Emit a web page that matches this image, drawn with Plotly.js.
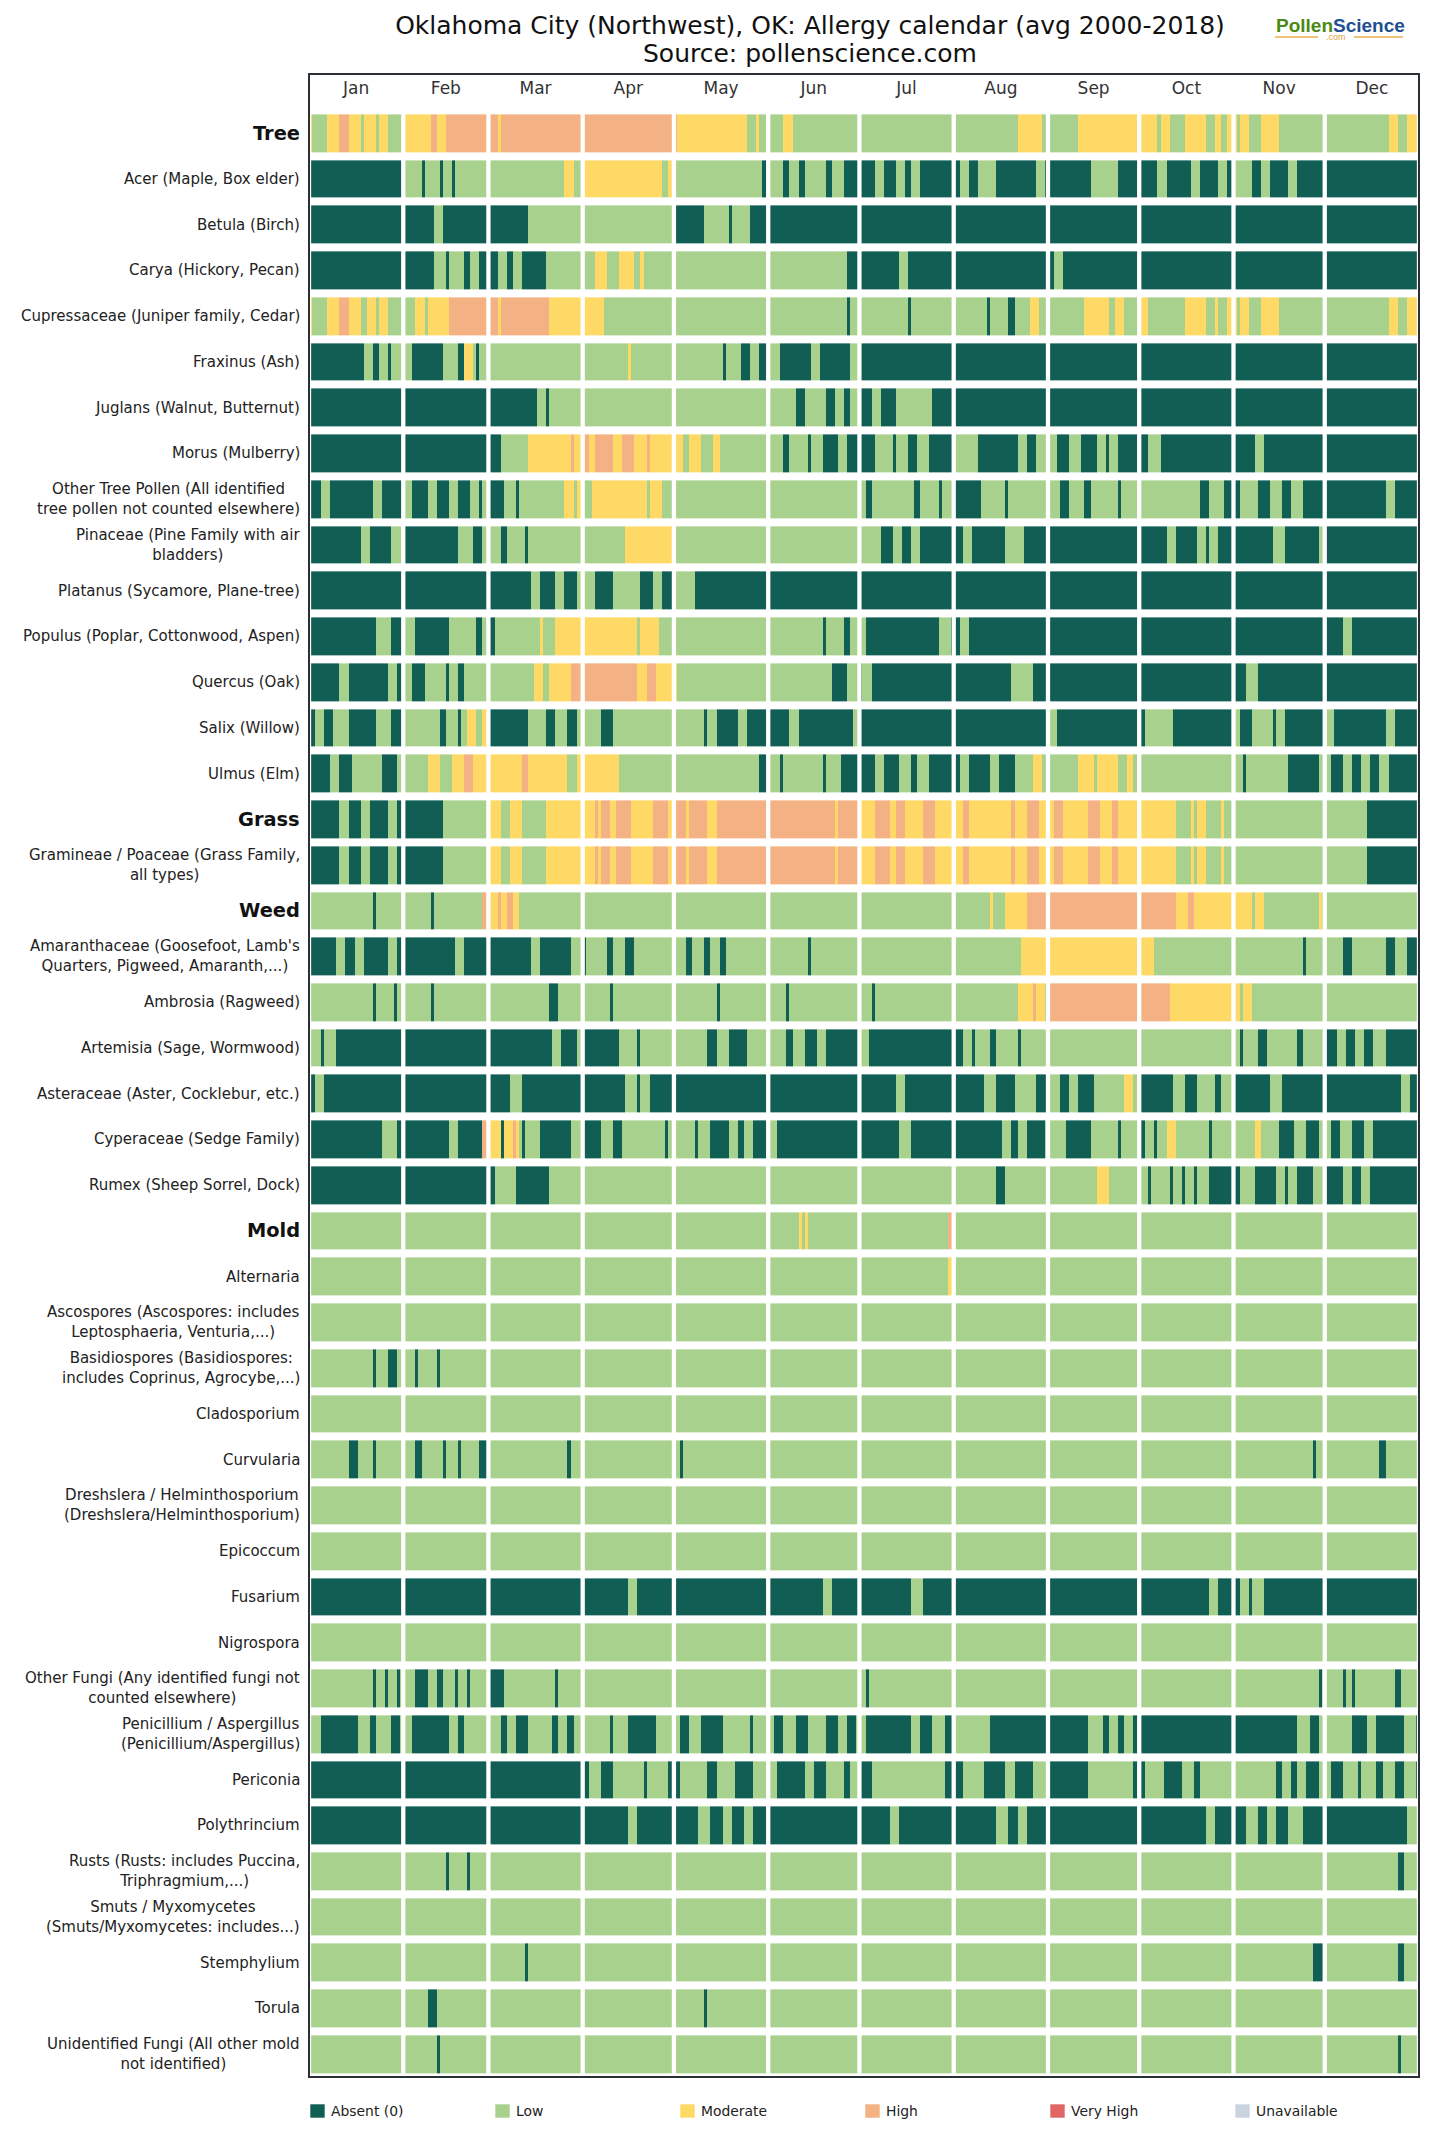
<!DOCTYPE html>
<html>
<head>
<meta charset="utf-8">
<script src="https://cdn.plot.ly/plotly-3.0.1.min.js"></script>
<style>
  html, body { margin: 0; padding: 0; background: #fff; }
  #chart { width: 1449px; height: 2149px; }
</style>
</head>
<body>
<div id="chart"></div>
<script>
// ---------------- DATA ----------------
const monthNames = ['Jan','Feb','Mar','Apr','May','Jun','Jul','Aug','Sep','Oct','Nov','Dec'];
const monthDays = [31,28,31,30,31,30,31,31,30,31,30,31];
const levelNames = ['Absent (0)','Low','Moderate','High','Very High','Unavailable'];
const levelCodes = {A:0, L:1, M:2, H:3, V:4, U:5};
const groupNames = ['Tree','Grass','Weed','Mold'];
const titleLines = ['Oklahoma City (Northwest), OK: Allergy calendar (avg 2000-2018)', 'Source: pollenscience.com'];

const categories = [
  'Tree',
  'Acer (Maple, Box elder)',
  'Betula (Birch)',
  'Carya (Hickory, Pecan)',
  'Cupressaceae (Juniper family, Cedar)',
  'Fraxinus (Ash)',
  'Juglans (Walnut, Butternut)',
  'Morus (Mulberry)',
  'Other Tree Pollen (All identified<br>tree pollen not counted elsewhere)',
  'Pinaceae (Pine Family with air<br>bladders)',
  'Platanus (Sycamore, Plane-tree)',
  'Populus (Poplar, Cottonwood, Aspen)',
  'Quercus (Oak)',
  'Salix (Willow)',
  'Ulmus (Elm)',
  'Grass',
  'Gramineae / Poaceae (Grass Family,<br>all types)',
  'Weed',
  "Amaranthaceae (Goosefoot, Lamb's<br>Quarters, Pigweed, Amaranth,...)",
  'Ambrosia (Ragweed)',
  'Artemisia (Sage, Wormwood)',
  'Asteraceae (Aster, Cocklebur, etc.)',
  'Cyperaceae (Sedge Family)',
  'Rumex (Sheep Sorrel, Dock)',
  'Mold',
  'Alternaria',
  'Ascospores (Ascospores: includes<br>Leptosphaeria, Venturia,...)',
  'Basidiospores (Basidiospores:<br>includes Coprinus, Agrocybe,...)',
  'Cladosporium',
  'Curvularia',
  'Dreshslera / Helminthosporium<br>(Dreshslera/Helminthosporium)',
  'Epicoccum',
  'Fusarium',
  'Nigrospora',
  'Other Fungi (Any identified fungi not<br>counted elsewhere)',
  'Penicillium / Aspergillus<br>(Penicillium/Aspergillus)',
  'Periconia',
  'Polythrincium',
  'Rusts (Rusts: includes Puccina,<br>Triphragmium,...)',
  'Smuts / Myxomycetes<br>(Smuts/Myxomycetes: includes...)',
  'Stemphylium',
  'Torula',
  'Unidentified Fungi (All other mold<br>not identified)'
];

// Runs per month: code + number of days (A absent, L low, M moderate, H high, V very high, U unavailable)
const treeRuns = [
  'M1 L5 M4 H3 M4 L1 M4 L1 M3 L5|M9 H2 M3 H14|H3 M1 H27|H30|H1 M23 L3 M1 L3|L5 M3 L22|L31|L21 M8 L2|L10 M20|M6 L1 M3 L5 M7 L3 M2 L2 M2|M1 L1 M3 L4 M6 L15|L21 M3 L3 M4',
  'A31|L6 A1 L5 A1 L3 A1 L11|L25 M3 L3|M26 L2 M2|L29 A2|L5 A2 L3 A2 L7 A2 L4 A5|A5 L3 A4 L3 A2 L3 A11|A2 L3 A3 L6 A13 L3 A1|A14 L9 A7|A6 L3 A8 L3 A6 L3 A2|L6 A3 L3 A6 L3 A9|A31',
  'A31|A10 L3 A15|A13 L18|L30|A10 L8 A1 L6 A6|A30|A31|A31|A30|A31|A30|A31',
  'A31|A10 L4 A1 L5 A2 L3 A3|A3 L3 A2 L3 A8 L12|L4 M4 L4 M5 L2 M1 L10|L31|L26 A4|A13 L3 A15|A31|A2 L3 A25|A31|A30|A31',
  'M1 L5 M4 H3 M4 L2 M3 L1 M3 L5|L4 M3 L1 M7 H13|H3 M1 H16 M11|M7 L23|L31|L26 A1 L3|L16 A1 L14|L11 A1 L6 A2 L5 M3 L3|L12 M8 L2 M3 L5|M3 L12 M7 L3 M1 L3 M2|M1 L1 M3 L4 M6 L15|L21 M3 L3 M4',
  'A18 L3 A2 L3 A1 L4|L3 A10 L5 A2 M3 L1 A1 L3|L31|L15 M1 L14|L16 A1 L5 A3 L3 A3|L4 A10 L3 A10 L3|A31|A31|A30|A31|A30|A31',
  'A31|A28|A16 L3 A1 L11|L30|L31|L9 A3 L7 A3 L3 A2 L3|A4 L3 A5 L12 A7|A31|A30|A31|A30|A31',
  'A31|A28|A4 L9 M14 H1 M3|H2 M2 H6 M3 H4 M4 H1 M8|M3 L2 M4 L4 M2 L16|L5 A2 L6 A1 L4 A5 L3 A4|A5 L6 A1 L4 A3 L4 A8|L8 A13 L3 A3 L4|L3 A4 L4 A5 L3 A1 L3 A7|A3 L4 A24|A7 L3 A20|A31',
  'A4 L3 A14 L3 A7|L3 A5 L3 A4 L3 A4 L3 A1 L2|A5 L4 A1 L15 M3 L1 M2|L3 M18 L1 M4 L4|L31|L30|L2 A2 L14 A2 L6 A1 L4|A9 L8 A1 L13|L4 A3 L5 A2 L9 A1 L6|L20 A3 L5 A3|A2 L6 A4 L4 A3 L4 A7|A20 L3 A8',
  'A17 L3 A7 L4|A18 L5 A3 L2|L4 A2 L6 A1 L18|L14 M16|L31|L30|L7 A4 L3 A3 L3 A11|A3 L3 A11 L6 A8|A30|A9 L3 A7 L3 A1 L3 A5|A13 L4 A11 L2|A31',
  'A31|A28|A14 L3 A5 L3 A4 L2|L4 A6 L9 A4 L3 A4|L7 A24|A30|A31|A31|A30|A31|A30|A31',
  'A22 L5 A4|L4 A11 L9 A2 L2|A2 L15 M1 L4 M9|M18 L1 M6 L5|L31|L18 A1 L6 A2 L3|L2 A24 L4 A1|A2 L3 A26|A30|A31|A30|A6 L3 A22',
  'A10 L3 A13 L3 A2|L3 A4 L7 A1 L3 A2 L8|L15 M3 L2 M7 H4|H18 M3 H3 M6|M1 L30|L21 A5 L4|A1 L3 A27|A19 L7 A5|A30|A31|A4 L4 A22|A31',
  'A2 L3 A3 L5 A9 L5 A4|L12 A2 L4 A1 L2 M3 L2 M2|A13 L6 A3 L4 A3 L2|L6 A4 L20|L10 A1 L3 A7 L3 A7|A7 L3 A18 L2|A31|A31|L3 A27|A2 L9 A20|L2 A4 L7 A1 L3 A13|L3 A17 L3 A8',
  'A7 L3 A4 L10 A5 L2|L8 M4 L4 M4 H3 M5|M11 H2 M13 L3 M2|M12 L18|L28 A3|L4 A1 L13 A1 L5 A6|A5 L3 A5 L4 A2 L4 A8|A2 L3 A7 L3 A5 L6 M3 L2|L10 M5 L1 M7 L3 M2 L2|L31|L3 A1 L14 A10 L2|L2 A4 L3 A3 L3 A3 L3 A10'
];

const grassRuns = [
  'A10 L3 A4 L3 A6 L3 A2|A13 L15|M4 L3 M4 L8 M12|M4 H1 M1 H3 M2 H5 M7 H5 M2|H4 M1 H6 M3 H17|H22 M1 H7|M5 H5 M2 H3 M6 H4 M6|M3 H2 M14 H1 M4 H4 M3|M2 H3 M8 H4 M4 H2 M7|M12 L5 M1 L1 M3 L5 M1 L3|L30|L14 A17',
  'A10 L3 A4 L3 A6 L3 A2|A13 L15|M4 L3 M4 L8 M12|M4 H1 M1 H3 M2 H5 M7 H5 M2|H4 M1 H6 M3 H17|H22 M1 H7|M5 H5 M2 H3 M6 H4 M6|M3 H2 M14 H1 M4 H4 M3|M2 H3 M8 H4 M4 H2 M7|M12 L5 M1 L1 M3 L5 M1 L3|L30|L14 A17'
];

const weedRuns = [
  'L21 A1 L9|L9 A1 L16 H2|M3 H1 M2 H2 M2 L21|L30|L31|L30|L31|L12 M1 L4 M7 H7|H30|H12 M4 H2 M13|M6 L1 M3 L18 M1 L1|L31',
  'A9 L3 A3 L3 A8 L3 A2|A17 L3 A8|A14 L3 A10 L4|A1 L7 A2 L4 A3 L13|L4 A2 L4 A2 L3 A2 L14|L13 A1 L16|L31|L22 M9|M30|M5 L26|L23 A1 L6|L6 A3 L11 A3 L4 A4',
  'L21 A1 L6 A1 L2|L9 A1 L18|L20 A3 L8|L9 A1 L20|L14 A1 L16|L6 A1 L23|L4 A1 L26|L21 M5 H1 M3 L1|H30|H10 M21|M2 L1 M3 L24|L31',
  'L4 A1 L4 A22|A28|A21 L3 A5 L2|A12 L6 A1 L11|L11 A3 L4 A6 L7|L6 A2 L4 A4 L3 A11|L3 A28|A3 L3 A1 L5 A2 L7 A1 L9|L30|L31|L2 A1 L5 A3 L10 A2 L7|A4 L3 A3 L3 A3 L4 A11',
  'A2 L3 A26|A28|A7 L4 A20|A14 L4 A1 L3 A8|A31|A30|A12 L3 A16|A10 L4 A6 L7 A4|L4 A3 L3 A5 L10 M3 L2|A11 L4 A4 L6 A2 L4|A12 L4 A14|A25 L3 A3',
  'A24 L5 A2|A15 L3 A8 H2|M4 A1 M3 H1 M1 L1 A1 L5 A10 L4|A6 L4 A3 L14 A1 L2|L7 A1 L4 A6 L3 A2 L3 A5|L3 A27|A13 L4 A14|A16 L3 A2 L3 A6 L1|L6 A8 L9 A1 L6|A2 L3 A1 L3 M3 L11 A1 L7|L7 M2 L6 A5 L4 A4 L2|L2 A3 L4 A4 L3 A15',
  'A31|A28|A2 L7 A11 L11|L30|L31|L30|L31|L14 A3 L14|L16 M4 L10|L3 A1 L6 A1 L3 A1 L3 A1 L4 A8|A2 L5 A7 L3 A1 L3 A5 L4|A6 L3 A3 L3 A16'
];

const moldRuns = [
  'L31|L28|L31|L30|L31|L10 M1 L1 M1 L17|L29 H2|L31|L30|L31|L30|L31',
  'L31|L28|L31|L30|L31|L30|L29 M2|L31|L30|L31|L30|L31',
  'L31|L28|L31|L30|L31|L30|L31|L31|L30|L31|L30|L31',
  'L21 A1 L4 A3 L2|L4 A1 L6 A1 L16|L31|L30|L31|L30|L31|L31|L30|L31|L30|L31',
  'L31|L28|L31|L30|L31|L30|L31|L31|L30|L31|L30|L31',
  'L13 A3 L5 A1 L9|L4 A2 L7 A1 L4 A1 L6 A3|L26 A1 L4|L30|L2 A1 L28|L30|L31|L31|L30|L31|L26 A1 L3|L18 A2 L11',
  'L31|L28|L31|L30|L31|L30|L31|L31|L30|L31|L30|L31',
  'L31|L28|L31|L30|L31|L30|L31|L31|L30|L31|L30|L31',
  'A31|A28|A31|A15 L3 A12|A31|A18 L3 A9|A17 L4 A10|A31|A30|A23 L3 A5|A2 L3 A1 L4 A20|A31',
  'L31|L28|L31|L30|L31|L30|L31|L31|L30|L31|L30|L31',
  'L21 A1 L3 A1 L3 A1 L1|L4 A4 L3 A2 L4 A1 L3 A1 L6|A5 L17 A1 L8|L30|L31|L30|L2 A1 L28|L31|L30|L31|L28 A1 L1|L6 A1 L2 A1 L13 A2 L6',
  'L4 A12 L4 A2 L5 A3 L1|L3 A12 L3 A2 L8|L4 A2 L3 A4 L8 A2 L3 A2 L3|L9 A1 L5 A9 L6|L2 A3 L4 A7 L9 A1 L5|L2 A3 L4 A4 L6 A4 L3 A3 L1|L2 A15 L3 A4 L4 A3|L12 A19|A13 L5 A2 L3 A2 L3 A2|A31|A21 L4 A3 L2|L9 A5 L3 A9 L4 A1',
  'A31|A28|A31|A2 L4 A4 L10 A1 L7 A2|A2 L9 A3 L6 A6 L5|L3 A9 L3 A4 L6 A2 L3|A4 L24 A3|A3 L7 A7 L3 A6 L5|A13 L15 A2|A2 L6 A6 L4 A2 L11|L14 A2 L3 A2 L3 A4 L2|L2 A4 L5 A1 L5 A2 L4 A3 L4 A1',
  'A31|A28|A31|A15 L3 A12|A8 L4 A4 L3 A4 L3 A5|A30|A10 L3 A18|A14 L4 A3 L3 A7|A30|A22 L3 A6|A4 L4 A3 L3 A4 L5 A7|A27 L4',
  'L31|L14 A1 L6 A1 L6|L31|L30|L31|L30|L31|L31|L30|L31|L30|L24 A2 L5',
  'L31|L28|L31|L30|L31|L30|L31|L31|L30|L31|L30|L31',
  'L31|L28|L12 A1 L18|L30|L31|L30|L31|L31|L30|L31|L26 A4|L24 A2 L5',
  'L31|L8 A3 L17|L31|L30|L10 A1 L20|L30|L31|L31|L30|L31|L30|L31',
  'L31|L11 A1 L16|L31|L30|L31|L30|L31|L31|L30|L31|L30|L24 A1 L6'
];

// ---------------- STYLE ----------------
const levelColors = ['#115e55', '#a9d18e', '#ffd966', '#f4b183', '#e06666', '#c9d4de'];
const FONT = 'DejaVu Sans';
const W = 1449, H = 2149;
const PL = 309, PR = 1419, PT = 74, PB = 2077;

// ---------------- BUILD ----------------
function expandRow(str) {
  const out = [];
  str.split('|').forEach((m, mi) => {
    const n = monthDays[mi];
    const arr = [];
    m.trim().split(/\s+/).forEach(tok => {
      const v = levelCodes[tok[0]];
      const len = tok.length > 1 ? parseInt(tok.slice(1), 10) : n - arr.length;
      for (let k = 0; k < len; k++) arr.push(v);
    });
    while (arr.length < n) arr.push(arr[arr.length - 1]);
    arr.length = n;
    out.push(...arr);
  });
  return out;
}

const allRuns = treeRuns.concat(grassRuns, weedRuns, moldRuns);
const z = allRuns.map(expandRow);
const yIdx = categories.map((_, i) => i);

const cum = [0];
monthDays.forEach(d => cum.push(cum[cum.length - 1] + d));
const monthCenters = monthDays.map((d, i) => cum[i] + d / 2);

const nL = levelColors.length;
const colorscale = [];
levelColors.forEach((c, i) => { colorscale.push([i / nL, c]); colorscale.push([(i + 1) / nL, c]); });

const heat = {
  type: 'heatmap',
  z: z,
  x0: 0.5, dx: 1,
  y: yIdx,
  zmin: -0.5, zmax: nL - 0.5,
  colorscale: colorscale,
  showscale: false,
  ygap: 8,
  xgap: 0,
  hoverinfo: 'skip'
};

const shapes = [];
// month separators
cum.forEach(b => {
  shapes.push({type: 'line', xref: 'x', yref: 'y', x0: b, x1: b, y0: -0.5, y1: 42.5,
    line: {color: '#ffffff', width: 4.3}, layer: 'above'});
});
// frame
shapes.push({type: 'rect', xref: 'paper', yref: 'paper', x0: 0, x1: 1, y0: 0, y1: 1,
  line: {color: '#2b2f36', width: 2}, fillcolor: 'rgba(0,0,0,0)', layer: 'above'});

const px2x = px => (px - PL) / (PR - PL);
const py2y = py => (PB - py) / (PB - PT);

const annotations = [];
// row labels
categories.forEach((lab, i) => {
  const isGroup = groupNames.indexOf(lab) >= 0;
  annotations.push({
    xref: 'paper', x: 0, xanchor: 'right', xshift: -7,
    yref: 'y', y: i, yanchor: 'middle',
    text: isGroup ? '<b>' + lab + '</b>' : lab,
    showarrow: false, align: 'center',
    font: {family: FONT, size: isGroup ? 19.4 : 15, color: isGroup ? '#111' : '#222'}
  });
});

// second title line
annotations.push({xref: 'paper', yref: 'paper', x: px2x(810), y: py2y(53), xanchor: 'center', yanchor: 'middle',
  text: titleLines[1], showarrow: false, font: {family: FONT, size: 25, color: '#111'}});

// legend (manual, below the plot)
levelNames.forEach((nm, k) => {
  const sx = 310 + 185 * k;
  shapes.push({type: 'rect', xref: 'paper', yref: 'paper',
    x0: px2x(sx), x1: px2x(sx + 15), y0: py2y(2118), y1: py2y(2104),
    fillcolor: levelColors[k], line: {color: 'rgba(255,255,255,0.6)', width: 1}});
  annotations.push({xref: 'paper', yref: 'paper', x: px2x(sx + 19), y: py2y(2111),
    xanchor: 'left', yanchor: 'middle', text: nm, showarrow: false,
    font: {family: FONT, size: 13.9, color: '#222'}});
});

// logo
annotations.push({xref: 'paper', yref: 'paper', x: px2x(1340), y: py2y(25), xanchor: 'center', yanchor: 'middle',
  text: '<b><span style="color:#4a8a14">Pollen</span><span style="color:#1d4f91">Science</span></b>',
  showarrow: false, font: {family: 'Liberation Sans', size: 19}});
annotations.push({xref: 'paper', yref: 'paper', x: px2x(1336), y: py2y(37), xanchor: 'center', yanchor: 'middle',
  text: '.com', showarrow: false, font: {family: 'Liberation Sans', size: 9, color: '#e3a23a'}});
shapes.push({type: 'line', xref: 'paper', yref: 'paper', x0: px2x(1275), x1: px2x(1318), y0: py2y(37), y1: py2y(37),
  line: {color: '#e8b04f', width: 1.5}});
shapes.push({type: 'line', xref: 'paper', yref: 'paper', x0: px2x(1354), x1: px2x(1403), y0: py2y(37), y1: py2y(37),
  line: {color: '#e8b04f', width: 1.5}});

const layout = {
  width: W, height: H,
  margin: {l: PL, r: W - PR, t: PT, b: H - PB, pad: 0},
  paper_bgcolor: '#ffffff', plot_bgcolor: '#ffffff',
  font: {family: FONT, color: '#222'},
  showlegend: false,
  title: {
    text: titleLines[0],
    xref: 'container', x: 810 / W, xanchor: 'center',
    yref: 'container', y: 1 - 25 / H, yanchor: 'middle',
    font: {family: FONT, size: 25, color: '#111'}
  },
  xaxis: {
    range: [0, 365], side: 'top',
    tickmode: 'array', tickvals: monthCenters, ticktext: monthNames,
    ticks: 'inside', ticklen: 9, tickcolor: 'rgba(0,0,0,0)',
    ticklabelposition: 'inside',
    tickfont: {family: FONT, size: 17, color: '#333'},
    showgrid: false, zeroline: false, showline: false, fixedrange: true
  },
  yaxis: {
    range: [42.5, -1.294], showticklabels: false, ticks: '',
    showgrid: false, zeroline: false, showline: false, fixedrange: true
  },
  shapes: shapes,
  annotations: annotations
};

Plotly.newPlot('chart', [heat], layout, {staticPlot: true, displayModeBar: false});
</script>
</body>
</html>
